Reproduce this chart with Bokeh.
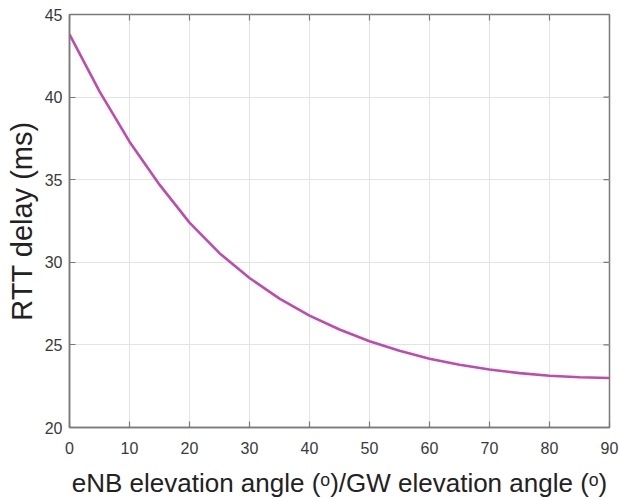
from bokeh.plotting import figure
from bokeh.models import Range1d, LinearAxis, FixedTicker
from bokeh.embed import file_html
from bokeh.resources import INLINE

# Data
angle_deg = [0, 5, 10, 15, 20, 25, 30, 35, 40, 45, 50, 55, 60, 65, 70, 75, 80, 85, 90]
rtt_ms = [43.8, 40.35, 37.3, 34.7, 32.4, 30.55, 29.05, 27.8, 26.77, 25.93, 25.22,
          24.64, 24.16, 23.8, 23.51, 23.29, 23.13, 23.04, 23.0]
x_ticks = [0, 10, 20, 30, 40, 50, 60, 70, 80, 90]
y_ticks = [20, 25, 30, 35, 40, 45]

FONT = "Liberation Sans"
AXIS_COLOR = "#7a7a7a"
TEXT_COLOR = "#3a3a3a"

p = figure(width=620, height=500,
           x_range=Range1d(0, 90), y_range=Range1d(20, 45),
           output_backend="svg", toolbar_location=None,
           min_border_left=69, min_border_right=11,
           min_border_top=14, min_border_bottom=72,
           x_axis_location=None, y_axis_location=None)
p.background_fill_color = "white"
p.border_fill_color = "white"
p.outline_line_color = AXIS_COLOR
p.outline_line_width = 1.5


def style_axis(ax):
    ax.axis_line_color = AXIS_COLOR
    ax.axis_line_width = 1.5
    ax.major_tick_line_color = AXIS_COLOR
    ax.major_tick_line_width = 1.2
    ax.major_tick_in = 6
    ax.major_tick_out = 0
    ax.minor_tick_line_color = None
    ax.major_label_text_font = FONT
    ax.major_label_text_color = TEXT_COLOR
    ax.major_label_text_font_size = "16px"
    ax.axis_label_text_font = FONT
    ax.axis_label_text_color = "#222222"
    ax.axis_label_text_font_style = "normal"


xb = LinearAxis(ticker=FixedTicker(ticks=x_ticks))
style_axis(xb)
xb.major_label_standoff = 14
xb.axis_label = "eNB elevation angle (\u1d52)/GW elevation angle (\u1d52)"
xb.axis_label_text_font_size = "26px"
xb.axis_label_standoff = 11
p.add_layout(xb, "below")

yl = LinearAxis(ticker=FixedTicker(ticks=y_ticks))
style_axis(yl)
yl.major_label_standoff = 7
yl.axis_label = "RTT delay (ms)"
yl.axis_label_text_font_size = "29px"
yl.axis_label_standoff = 4
p.add_layout(yl, "left")

# inward ticks on the top and right edges of the box
p.ray(x=x_ticks, y=[y_ticks[-1]] * len(x_ticks), length=6, length_units="screen",
      angle=-90, angle_units="deg", line_color=AXIS_COLOR, line_width=1.2)
p.ray(x=[x_ticks[-1]] * len(y_ticks), y=y_ticks, length=6, length_units="screen",
      angle=180, angle_units="deg", line_color=AXIS_COLOR, line_width=1.2)

p.xgrid.ticker = FixedTicker(ticks=x_ticks)
p.ygrid.ticker = FixedTicker(ticks=y_ticks)
p.xgrid.grid_line_color = "#e3e3e3"
p.ygrid.grid_line_color = "#e3e3e3"
p.xgrid.grid_line_width = 1
p.ygrid.grid_line_width = 1

p.line(angle_deg, rtt_ms, line_color="#c04aae", line_width=2.6, line_join="round")

open("out.html", "w").write(file_html(p, INLINE))
